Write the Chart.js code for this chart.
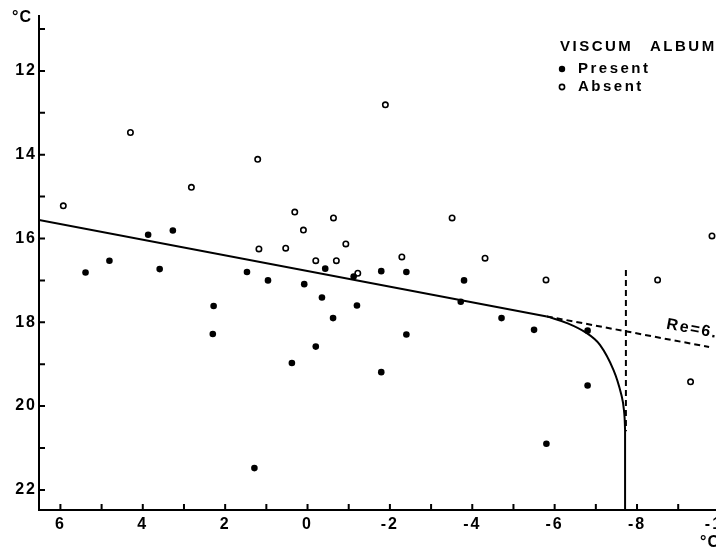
<!DOCTYPE html>
<html>
<head>
<meta charset="utf-8">
<script src="https://cdn.jsdelivr.net/npm/chart.js@4.4.1/dist/chart.umd.min.js"></script>
<style>
  html, body { margin: 0; padding: 0; background: #fff; overflow: hidden; }
  canvas { display: block; }
</style>
</head>
<body>
<canvas id="chart" width="760" height="558"></canvas>
<script>
// puntos (x = temperatura invierno, y = temperatura verano)
const presentX = [5.39, 4.81, 3.87, 3.27, 3.59, 2.28, 2.30, 1.47, 0.96, 0.08, -0.43, -0.35, -0.62, -1.12, -1.20,
  -0.20, 0.38, -1.79, -2.40, -2.40, -1.79, -3.80, -3.72, -4.71, -5.50, 1.29, -6.80, -6.80, -5.80];
const presentY = [16.81, 16.53, 15.91, 15.81, 16.73, 17.61, 18.28, 16.80, 17.00, 17.09, 16.72, 17.41, 17.90, 16.91, 17.60,
  18.58, 18.97, 16.78, 16.80, 18.29, 19.19, 17.00, 17.51, 17.90, 18.18, 21.48, 18.20, 19.51, 20.90];
const absentX = [5.93, 4.30, 2.82, 1.21, 1.18, 0.53, 0.31, 0.10, -0.20, -0.63, -0.70, -0.93, -1.22, -1.89,
  -3.51, -2.29, -4.31, -5.79, -8.50, -9.30, -9.82];
const absentY = [15.22, 13.47, 14.78, 14.11, 16.25, 16.23, 15.37, 15.80, 16.53, 15.51, 16.53, 16.13, 16.83, 12.81,
  15.51, 16.44, 16.47, 16.99, 16.99, 19.42, 15.94];

// recta de regresion y su prolongacion
const lineX = [6.52, -5.81];
const lineY = [15.56, 17.86];
const dashX = [-5.81, -9.75];
const dashY = [17.86, 18.59];
// curva limite
const curveX = [-5.81, -6.30, -6.78, -7.10, -7.43, -7.63, -7.69, -7.71];
const curveY = [17.86, 18.02, 18.26, 18.54, 19.14, 19.77, 20.17, 20.57];
const dropX = [-7.71, -7.71];
const dropY = [20.57, 22.48];
const vDashX = [-7.73, -7.73];
const vDashY = [16.75, 20.6];

const xTicks = [6, 5, 4, 3, 2, 1, 0, -1, -2, -3, -4, -5, -6, -7, -8, -9, -10];
const yTicks = [11, 12, 13, 14, 15, 16, 17, 18, 19, 20, 21, 22];

const FONT = "'Liberation Sans', Arial, Helvetica, sans-serif";

function pts(xs, ys) {
    return xs.map((x, i) => ({ x: x, y: ys[i] }));
}

function lineSet(xs, ys, dash, tension) {
    return {
        type: 'line',
        data: pts(xs, ys),
        borderColor: '#000',
        borderWidth: 2,
        borderDash: dash || [],
        pointRadius: 0,
        tension: tension || 0,
        fill: false
    };
}

// marcas hacia dentro y textos
const extras = {
    id: 'extras',
    beforeDraw(chart) {
        chart.ctx.letterSpacing = '2px';
    },
    afterDraw(chart) {
        const ctx = chart.ctx;
        const xs = chart.scales.x, ys = chart.scales.y;
        const a = chart.chartArea;
        ctx.save();
        ctx.strokeStyle = '#000';
        ctx.lineWidth = 2;
        ctx.beginPath();
        for (const t of xs.ticks) {
            const px = xs.getPixelForValue(t.value);
            ctx.moveTo(px, a.bottom);
            ctx.lineTo(px, a.bottom - 6);
        }
        for (const t of ys.ticks) {
            const py = ys.getPixelForValue(t.value);
            ctx.moveTo(a.left, py);
            ctx.lineTo(a.left + 6, py);
        }
        ctx.stroke();

        ctx.fillStyle = '#000';
        ctx.font = 'bold 16px ' + FONT;
        ctx.letterSpacing = '1px';
        ctx.textBaseline = 'middle';
        ctx.textAlign = 'left';
        ctx.fillText('°C', 12, 18);
        ctx.fillText('°C', 700, 543);

        // leyenda
        ctx.font = 'bold 15px ' + FONT;
        ctx.letterSpacing = '2.5px';
        ctx.fillText('VISCUM', 560, 47);
        ctx.fillText('ALBUM', 650, 47);
        ctx.fillText('Present', 578, 69);
        ctx.fillText('Absent', 578, 87);
        ctx.beginPath();
        ctx.arc(562, 69, 3.2, 0, Math.PI * 2);
        ctx.fill();
        ctx.beginPath();
        ctx.lineWidth = 1.6;
        ctx.arc(562, 87, 2.6, 0, Math.PI * 2);
        ctx.stroke();

        // etiqueta de la linea discontinua
        const tx = xs.getPixelForValue(-8.7);
        const ty = ys.getPixelForValue(18.15);
        ctx.translate(tx, ty);
        ctx.rotate(10.7 * Math.PI / 180);
        ctx.font = 'bold 16px ' + FONT;
        ctx.letterSpacing = '1.8px';
        ctx.textBaseline = 'alphabetic';
        ctx.fillText('Re=6.', 0, 0);
        ctx.restore();
    }
};

new Chart(document.getElementById('chart'), {
    type: 'scatter',
    data: {
        datasets: [
            {
                data: pts(presentX, presentY),
                pointRadius: 3.3,
                pointBackgroundColor: '#000',
                pointBorderWidth: 0
            },
            {
                data: pts(absentX, absentY),
                pointRadius: 2.7,
                pointBackgroundColor: '#fff',
                pointBorderColor: '#000',
                pointBorderWidth: 1.6
            },
            lineSet(lineX, lineY),
            lineSet(curveX, curveY, null, 0.4),
            lineSet(dropX, dropY),
            lineSet(dashX, dashY, [6, 4]),
            lineSet(vDashX, vDashY, [6, 4])
        ]
    },
    options: {
        responsive: false,
        animation: false,
        layout: { padding: { top: 16, left: 0, right: 0, bottom: 0 } },
        plugins: {
            legend: { display: false },
            tooltip: { enabled: false }
        },
        scales: {
            x: {
                type: 'linear',
                reverse: true,
                min: -10.85,
                max: 6.52,
                afterBuildTicks: s => { s.ticks = xTicks.map(v => ({ value: v })); },
                afterFit: s => { s.height = 48; },
                grid: { display: false, drawTicks: false },
                border: { display: true, color: '#000', width: 2 },
                ticks: {
                    color: '#000',
                    padding: 5,
                    maxRotation: 0,
                    autoSkip: false,
                    font: { family: FONT, size: 16, weight: 'bold' },
                    callback: v => (v % 2 === 0 ? String(v) : '')
                }
            },
            y: {
                type: 'linear',
                reverse: true,
                min: 10.69,
                max: 22.48,
                afterBuildTicks: s => { s.ticks = yTicks.map(v => ({ value: v })); },
                afterFit: s => { s.width = 39; },
                grid: { display: false, drawTicks: false },
                border: { display: true, color: '#000', width: 2 },
                ticks: {
                    color: '#000',
                    padding: 2,
                    autoSkip: false,
                    font: { family: FONT, size: 16, weight: 'bold' },
                    callback: v => (v % 2 === 0 ? String(v) : '')
                }
            }
        }
    },
    plugins: [extras]
});
</script>
</body>
</html>
